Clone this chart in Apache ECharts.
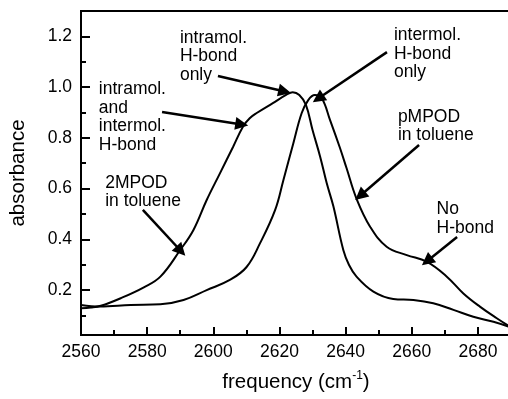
<!DOCTYPE html>
<html><head><meta charset="utf-8">
<script src="https://cdn.jsdelivr.net/npm/echarts@6/dist/echarts.min.js"></script>
<style>html,body{margin:0;padding:0;background:#fff}#c{width:508px;height:399px}</style>
</head><body><div id="c"></div>
<script>
// ---- data ----
const freq2MPOD = [2560,2563,2566,2572,2579,2584,2590,2594,2598,2602,2606,2609,2611,2613,2618,2622,2624,2626,2628,2630,2632.3,2634.3,2636.3,2639.3,2641,2643.3,2648.4,2654.4,2660.5,2666.5,2672.6,2678.6,2684.7,2690];
const abs2MPOD  = [0.128,0.131,0.138,0.168,0.211,0.253,0.358,0.437,0.555,0.660,0.765,0.845,0.877,0.897,0.937,0.969,0.980,0.969,0.930,0.831,0.726,0.621,0.53,0.358,0.30,0.253,0.194,0.165,0.161,0.148,0.122,0.095,0.075,0.053];
const freqPMPOD = [2560,2565.7,2575,2584,2591,2598,2605,2610,2614.1,2618.7,2621.2,2624.2,2626.7,2628.7,2630.7,2632.8,2635.3,2638.3,2640.3,2643.3,2647.4,2652.4,2658.5,2664.5,2670.6,2675.6,2680.6,2685.7,2690];
const absPMPOD  = [0.141,0.135,0.141,0.144,0.161,0.200,0.240,0.290,0.384,0.516,0.634,0.779,0.897,0.949,0.969,0.956,0.870,0.76,0.68,0.56,0.450,0.371,0.338,0.312,0.253,0.187,0.135,0.089,0.053];

const xTickValues = [2560,2580,2600,2620,2640,2660,2680];
const xMinorValues = [2570,2590,2610,2630,2650,2670];
const yTickValues = [0.2,0.4,0.6,0.8,1.0,1.2];
const yMinorValues = [0.1,0.3,0.5,0.7,0.9,1.1];

const noteTexts = [
  'intramol.\nH-bond\nonly',
  'intramol.\nand\nintermol.\nH-bond',
  'intermol.\nH-bond\nonly',
  'pMPOD\nin toluene',
  '2MPOD\nin toluene',
  'No\nH-bond'
];
// anchor (top-left of text) in data units
const noteAnchors = [[2589.9,1.231],[2565.4,1.028],[2654.6,1.241],[2655.8,0.918],[2567.3,0.658],[2667.5,0.555]];
// arrows: [start, tip] in data units
const arrowStarts = [[2601.4,1.044],[2584.5,0.902],[2652.5,1.138],[2662.2,0.772],[2578.7,0.516],[2673.7,0.409]];
const arrowTips   = [[2621.6,0.983],[2608.6,0.853],[2631.7,0.955],[2644.4,0.572],[2590.2,0.354],[2664.6,0.314]];

// ---- chart ----
const FONT = '"Liberation Sans", Arial, Helvetica, sans-serif';
const zip = (a,b) => a.map((v,i)=>[v,b[i]]);
const chart = echarts.init(document.getElementById('c'), null, {renderer:'canvas'});

const xMin = 2560, xMax = 2690, yMin = 0.023, yMax = 1.3;

const option = {
  animation: false,
  backgroundColor: '#fff',
  grid: {left: 81, top: 11, right: -3, bottom: 64, containLabel: false, outerBoundsMode: 'none',
         show: true, borderColor: '#000', borderWidth: 2, backgroundColor: 'transparent'},
  xAxis: [{
    type: 'value', min: xMin, max: xMax, position: 'bottom',
    name: '{t|frequency (cm}{s|-1}{t|)}', nameLocation: 'middle', nameGap: 35,
    nameTextStyle: {rich: {t: {fontSize: 20.5, fontFamily: FONT, color: '#000'},
                           s: {fontSize: 12, fontFamily: FONT, color: '#000', padding: [0,0,12,0]}}},
    axisLine: {show: true, onZero: false, lineStyle: {color: '#000', width: 2}},
    axisTick: {show: true, inside: true, length: 8, lineStyle: {color: '#000', width: 2}, customValues: xTickValues},
    axisLabel: {show: true, customValues: xTickValues, color: '#000', fontSize: 17.5, fontFamily: FONT, margin: 8,
                formatter: v => String(Math.round(v))},
    splitLine: {show: false}, minorTick: {show: false}
  },{
    type: 'value', min: xMin, max: xMax, position: 'bottom',
    axisLine: {show: false, onZero: false},
    axisTick: {show: true, inside: true, length: 5, lineStyle: {color: '#000', width: 2}, customValues: xMinorValues},
    axisLabel: {show: false}, splitLine: {show: false}
  }],
  yAxis: [{
    type: 'value', min: yMin, max: yMax, position: 'left',
    name: 'absorbance', nameLocation: 'middle', nameGap: 52, nameRotate: 90,
    nameTextStyle: {fontSize: 20.5, fontFamily: FONT, color: '#000'},
    axisLine: {show: true, onZero: false, lineStyle: {color: '#000', width: 2}},
    axisTick: {show: true, inside: true, length: 9, lineStyle: {color: '#000', width: 2}, customValues: yTickValues},
    axisLabel: {show: true, customValues: yTickValues, color: '#000', fontSize: 17.5, fontFamily: FONT, margin: 9,
                formatter: v => v.toFixed(1)},
    splitLine: {show: false}
  },{
    type: 'value', min: yMin, max: yMax, position: 'left',
    axisLine: {show: false, onZero: false},
    axisTick: {show: true, inside: true, length: 5, lineStyle: {color: '#000', width: 2}, customValues: yMinorValues},
    axisLabel: {show: false}, splitLine: {show: false}
  }],
  series: [{
    name: '2MPOD in toluene', type: 'line', data: zip(freq2MPOD, abs2MPOD),
    smooth: 0.4, showSymbol: false, symbol: 'none',
    lineStyle: {color: '#000', width: 2}, silent: true, clip: true,
    markLine: {
      silent: true, animation: false, symbol: ['none', 'triangle'], symbolSize: 13,
      label: {show: false}, lineStyle: {color: '#000', width: 2.5, type: 'solid'},
      emphasis: {disabled: true},
      data: arrowStarts.map((s,i)=>[{coord: s}, {coord: arrowTips[i]}])
    },
    markPoint: {
      silent: true, animation: false, symbol: 'circle', symbolSize: 0,
      label: {show: true, position: [0,0], align: 'left', verticalAlign: 'top', color: '#000',
              fontSize: 17.5, fontFamily: FONT, lineHeight: 18.5, formatter: p => p.name},
      data: noteTexts.map((t,i)=>({name: t, coord: noteAnchors[i]}))
    }
  },{
    name: 'pMPOD in toluene', type: 'line', data: zip(freqPMPOD, absPMPOD),
    smooth: 0.4, showSymbol: false, symbol: 'none',
    lineStyle: {color: '#000', width: 2}, silent: true, clip: true
  }]
};
chart.setOption(option);
</script></body></html>
